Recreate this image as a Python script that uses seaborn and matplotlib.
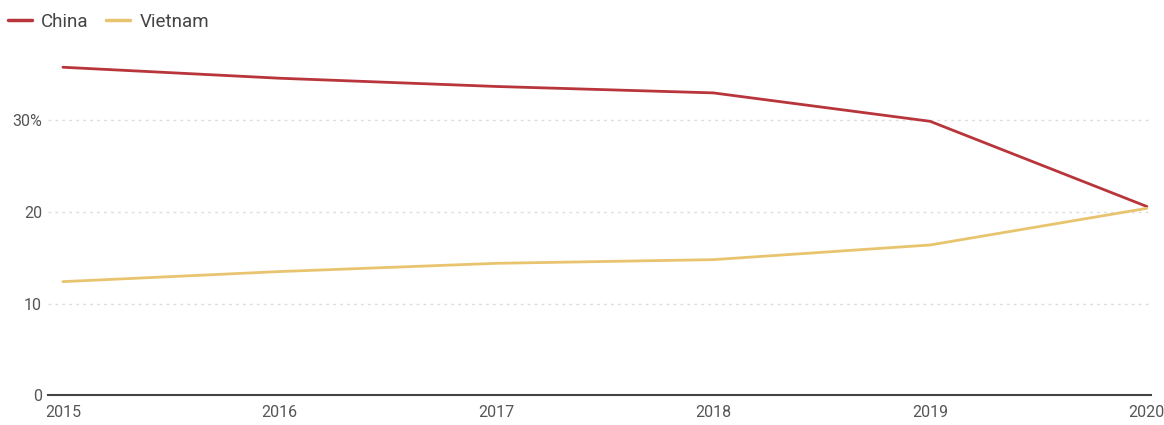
import pandas as pd
import seaborn as sns
import matplotlib.pyplot as plt
from matplotlib.ticker import FixedLocator

years = [2015, 2016, 2017, 2018, 2019, 2020]
china = [35.8, 34.6, 33.7, 33.0, 29.9, 20.6]
vietnam = [12.4, 13.5, 14.4, 14.8, 16.4, 20.4]
y_ticks = [0, 10, 20, 30]
y_labels = ["0", "10", "20", "30%"]

df = pd.DataFrame({"Year": years * 2,
                   "Share": china + vietnam,
                   "Country": ["China"] * len(years) + ["Vietnam"] * len(years)})

sns.set_style("white")
plt.rcParams['font.family'] = ['Roboto', 'DejaVu Sans']

fig = plt.figure(figsize=(11.64, 4.25), dpi=100)
ax = fig.add_axes([0.041, 0.07, 0.948, 0.83])

sns.lineplot(data=df, x="Year", y="Share", hue="Country",
             palette={"China": "#b8353b", "Vietnam": "#e9c46f"},
             linewidth=2, ax=ax, legend=False)

ax.set_xlim(2014.93, 2020.02)
ax.set_ylim(0, 38.5)
ax.set_xticks(years)
ax.set_xticklabels([str(y) for y in years])
ax.yaxis.set_major_locator(FixedLocator(y_ticks))
ax.set_yticklabels(y_labels)
ax.set_xlabel("")
ax.set_ylabel("")

for t in y_ticks[1:]:
    ax.axhline(t, color="#dddddd", linewidth=1, linestyle=(0, (2, 3)), zorder=0)

for s in ["top", "right", "left"]:
    ax.spines[s].set_visible(False)
ax.spines["bottom"].set_color("#444444")
ax.spines["bottom"].set_linewidth(1.5)

ax.tick_params(axis="both", length=0, labelsize=11.5, colors="#555555")
ax.tick_params(axis="x", pad=7)
ax.tick_params(axis="y", pad=4)

handles = [plt.Line2D([], [], color="#b8353b", linewidth=2.5),
           plt.Line2D([], [], color="#e9c46f", linewidth=2.5)]
leg = fig.legend(handles, ["China", "Vietnam"], loc="center left",
                 bbox_to_anchor=(0.0, 1 - 22 / 425), ncol=2, frameon=False,
                 fontsize=13.5, handlelength=1.3, handletextpad=0.5, columnspacing=0.9,
                 borderaxespad=0)
for txt in leg.get_texts():
    txt.set_color("#444444")

fig.savefig("out.png", dpi=100)
